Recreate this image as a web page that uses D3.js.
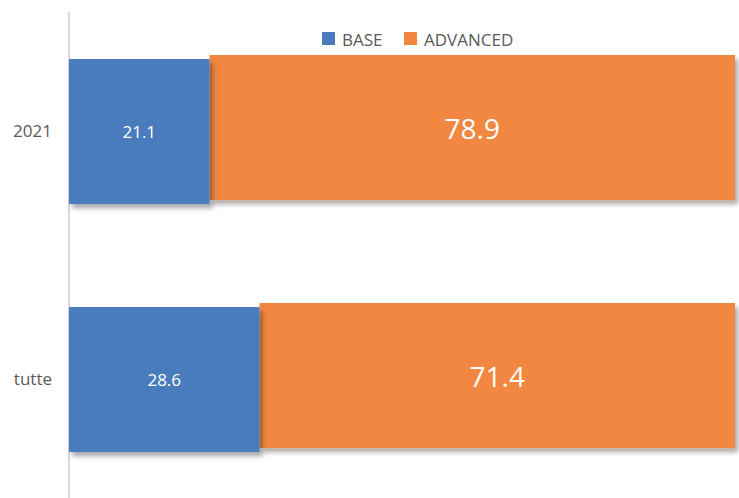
<!DOCTYPE html>
<html>
<head>
<meta charset="utf-8">
<script src="https://cdn.jsdelivr.net/npm/d3@7"></script>
<style>
  body { margin: 0; background: #fff; }
  svg { display: block; font-family: "Open Sans", sans-serif; }
</style>
</head>
<body>
<svg width="739" height="498"></svg>
<script>
var categories = ["2021", "tutte"];
var seriesNames = ["BASE", "ADVANCED"];
var baseValues = [21.1, 28.6];
var advancedValues = [78.9, 71.4];

var colors = {BASE: "#4a7cbd", ADVANCED: "#f1873f"};

var rows = categories.map(function(c, i) {
    return {cat: c, BASE: baseValues[i], ADVANCED: advancedValues[i]};
});

var svg = d3.select("svg");

var defs = svg.append("defs");
var f = defs.append("filter").attr("id", "shadow")
    .attr("x", "-5%").attr("y", "-5%").attr("width", "115%").attr("height", "120%");
f.append("feDropShadow")
    .attr("dx", 3).attr("dy", 4).attr("stdDeviation", 2.5)
    .attr("flood-color", "#000").attr("flood-opacity", 0.35);

var xScale = d3.scaleLinear().domain([0, 100]).range([69, 735]);
var yScale = d3.scaleBand().domain(categories)
    .range([5.4, 497.7])
    .paddingInner(0.415)
    .paddingOuter(0.2);

var stack = d3.stack().keys(seriesNames);
var stacked = stack(rows);

// blue bars sit a few pixels lower than the orange ones in the original
var shift = {BASE: 4, ADVANCED: 0};

// axis line
svg.append("line")
    .attr("x1", 69).attr("x2", 69)
    .attr("y1", 12).attr("y2", 498)
    .attr("stroke", "#d9d9d9").attr("stroke-width", 2);

// draw orange first so the blue shadow shows on top
var order = stacked.slice().reverse();
order.forEach(function(s) {
    svg.append("g").selectAll("rect")
        .data(s)
        .enter().append("rect")
        .attr("x", function(d) { return xScale(d[0]); })
        .attr("y", function(d) { return yScale(d.data.cat) + shift[s.key]; })
        .attr("width", function(d) { return xScale(d[1]) - xScale(d[0]); })
        .attr("height", yScale.bandwidth())
        .attr("fill", colors[s.key])
        .attr("filter", "url(#shadow)");
});

// value labels
stacked.forEach(function(s) {
    svg.append("g").selectAll("text")
        .data(s)
        .enter().append("text")
        .attr("x", function(d) { return (xScale(d[0]) + xScale(d[1])) / 2; })
        .attr("y", function(d) { return yScale(d.data.cat) + yScale.bandwidth() / 2 + shift[s.key]; })
        .attr("text-anchor", "middle")
        .attr("dominant-baseline", "central")
        .attr("fill", "#fff")
        .attr("font-size", s.key == "BASE" ? 17 : 28)
        .text(function(d) { return (d[1] - d[0]).toFixed(1); });
});

// category labels
svg.append("g").selectAll("text")
    .data(categories)
    .enter().append("text")
    .attr("x", 52)
    .attr("y", function(d) { return yScale(d) + yScale.bandwidth() / 2 + 3; })
    .attr("text-anchor", "end")
    .attr("dominant-baseline", "central")
    .attr("fill", "#595959")
    .attr("font-size", 17)
    .text(function(d) { return d; });

// legend
var legendX = [322, 404];
var legend = svg.append("g");
seriesNames.forEach(function(name, i) {
    legend.append("rect")
        .attr("x", legendX[i]).attr("y", 32)
        .attr("width", 13).attr("height", 13)
        .attr("fill", colors[name]);
    legend.append("text")
        .attr("x", legendX[i] + 20).attr("y", 39)
        .attr("dominant-baseline", "central")
        .attr("fill", "#595959")
        .attr("font-size", 17)
        .text(name);
});
</script>
</body>
</html>
